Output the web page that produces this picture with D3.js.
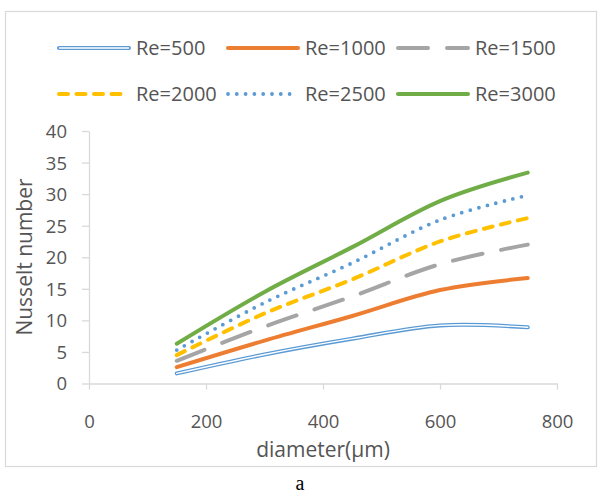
<!DOCTYPE html>
<html><head><meta charset="utf-8">
<script src="https://cdn.jsdelivr.net/npm/d3@7"></script>
<style>body{margin:0;background:#fff} svg{display:block}</style>
</head><body><script>
const diameters = [150, 300, 450, 600, 750];
const seriesNames = ["Re=500", "Re=1000", "Re=1500", "Re=2000", "Re=2500", "Re=3000"];
const re500  = [1.6, 4.6, 7.1, 9.2, 8.9];
const re1000 = [2.6, 6.8, 10.7, 14.8, 16.7];
const re1500 = [3.6, 9.0, 13.8, 18.9, 22.0];
const re2000 = [4.5, 11.1, 16.5, 22.5, 26.2];
const re2500 = [5.3, 12.8, 19.1, 25.9, 29.8];
const re3000 = [6.3, 14.5, 21.6, 28.9, 33.4];
const xTicks = [0, 200, 400, 600, 800];
const yTicks = [0, 5, 10, 15, 20, 25, 30, 35, 40];
const xTitle = "diameter(\u03bcm)";
const yTitle = "Nusselt number";
const caption = "a";

const W = 600, H = 497;
const font = "'Open Sans', sans-serif";
const textColor = "#555555";
const axisColor = "#D9D9D9";

const styles = [
  {color: "#5B9BD5", width: 4, dash: null, double: true},
  {color: "#ED7D31", width: 4, dash: null},
  {color: "#A5A5A5", width: 4, dash: "30 19"},
  {color: "#FFC000", width: 4, dash: "9 8.5"},
  {color: "#5B9BD5", width: 3.8, dash: "0 8.8"},
  {color: "#70AD47", width: 4, dash: null}
];
const allSeries = [re500, re1000, re1500, re2000, re2500, re3000];

const svg = d3.select("body").append("svg").attr("width", W).attr("height", H);

// outer frame
svg.append("rect").attr("x", 5.5).attr("y", 11.5).attr("width", 591).attr("height", 455)
  .attr("fill", "#fff").attr("stroke", "#D9D9D9").attr("stroke-width", 1.2);

const x = d3.scaleLinear().domain([0, 800]).range([89, 557]);
const y = d3.scaleLinear().domain([0, 40]).range([383.5, 131]);

// x axis
const gx = svg.append("g").attr("transform", `translate(0,${y(0)})`)
  .call(d3.axisBottom(x).tickValues(xTicks).tickSize(6).tickSizeOuter(0));
gx.select(".domain").attr("stroke", axisColor).attr("stroke-width", 1.3);
gx.selectAll(".tick line").attr("stroke", axisColor).attr("stroke-width", 1.3);
gx.selectAll(".tick text").attr("y", 38).attr("dy", "0.35em")
  .attr("fill", textColor).attr("font-family", font).attr("font-size", 18.5);

// y axis
const gy = svg.append("g").attr("transform", `translate(${x(0)},0)`)
  .call(d3.axisLeft(y).tickValues(yTicks).tickSize(7).tickSizeOuter(0));
gy.select(".domain").attr("stroke", axisColor).attr("stroke-width", 1.3);
gy.selectAll(".tick line").attr("stroke", axisColor).attr("stroke-width", 1.3);
gy.selectAll(".tick text").attr("x", -22).attr("dy", "0.35em")
  .attr("fill", textColor).attr("font-family", font).attr("font-size", 18.5);

// titles
svg.append("text").attr("x", 323).attr("y", 450).attr("dy", "0.35em").attr("text-anchor", "middle")
  .attr("fill", textColor).attr("font-family", font).attr("font-size", 21).text(xTitle);
svg.append("text").attr("transform", "translate(25,257) rotate(-90)").attr("dy", "0.35em")
  .attr("text-anchor", "middle").attr("fill", textColor).attr("font-family", font)
  .attr("font-size", 21).text(yTitle);
svg.append("text").attr("x", 300).attr("y", 490).attr("text-anchor", "middle")
  .attr("fill", "#000").attr("font-family", "'Liberation Serif', serif").attr("font-size", 20).text(caption);

const line = d3.line().x(d => x(d[0])).y(d => y(d[1])).curve(d3.curveCardinal.tension(0));

function applyStyle(sel, s) {
  sel.attr("fill", "none").attr("stroke", s.color).attr("stroke-width", s.width)
    .attr("stroke-linecap", "round").attr("stroke-linejoin", "round");
  if (s.dash) sel.attr("stroke-dasharray", s.dash);
}

allSeries.forEach((vals, i) => {
  const pts = diameters.map((d, j) => [d, vals[j]]);
  const s = styles[i];
  const p = svg.append("path").attr("d", line(pts));
  applyStyle(p, s);
  if (s.double) {
    svg.append("path").attr("d", line(pts)).attr("fill", "none").attr("stroke", "#fff")
      .attr("stroke-width", 1.4).attr("stroke-linecap", "round");
  }
});

// legend
const legX = [59, 228, 398];
const legY = [48, 94];
seriesNames.forEach((name, i) => {
  const cx = legX[i % 3], cy = legY[Math.floor(i / 3)];
  const s = styles[i];
  const l = svg.append("line").attr("x1", cx).attr("x2", cx + 70).attr("y1", cy).attr("y2", cy);
  applyStyle(l, s);
  if (s.double) {
    svg.append("line").attr("x1", cx).attr("x2", cx + 70).attr("y1", cy).attr("y2", cy)
      .attr("stroke", "#fff").attr("stroke-width", 1.4);
  }
  svg.append("text").attr("x", cx + 77).attr("y", cy).attr("dy", "0.35em")
    .attr("fill", textColor).attr("font-family", font).attr("font-size", 20).text(name);
});
</script></body></html>
